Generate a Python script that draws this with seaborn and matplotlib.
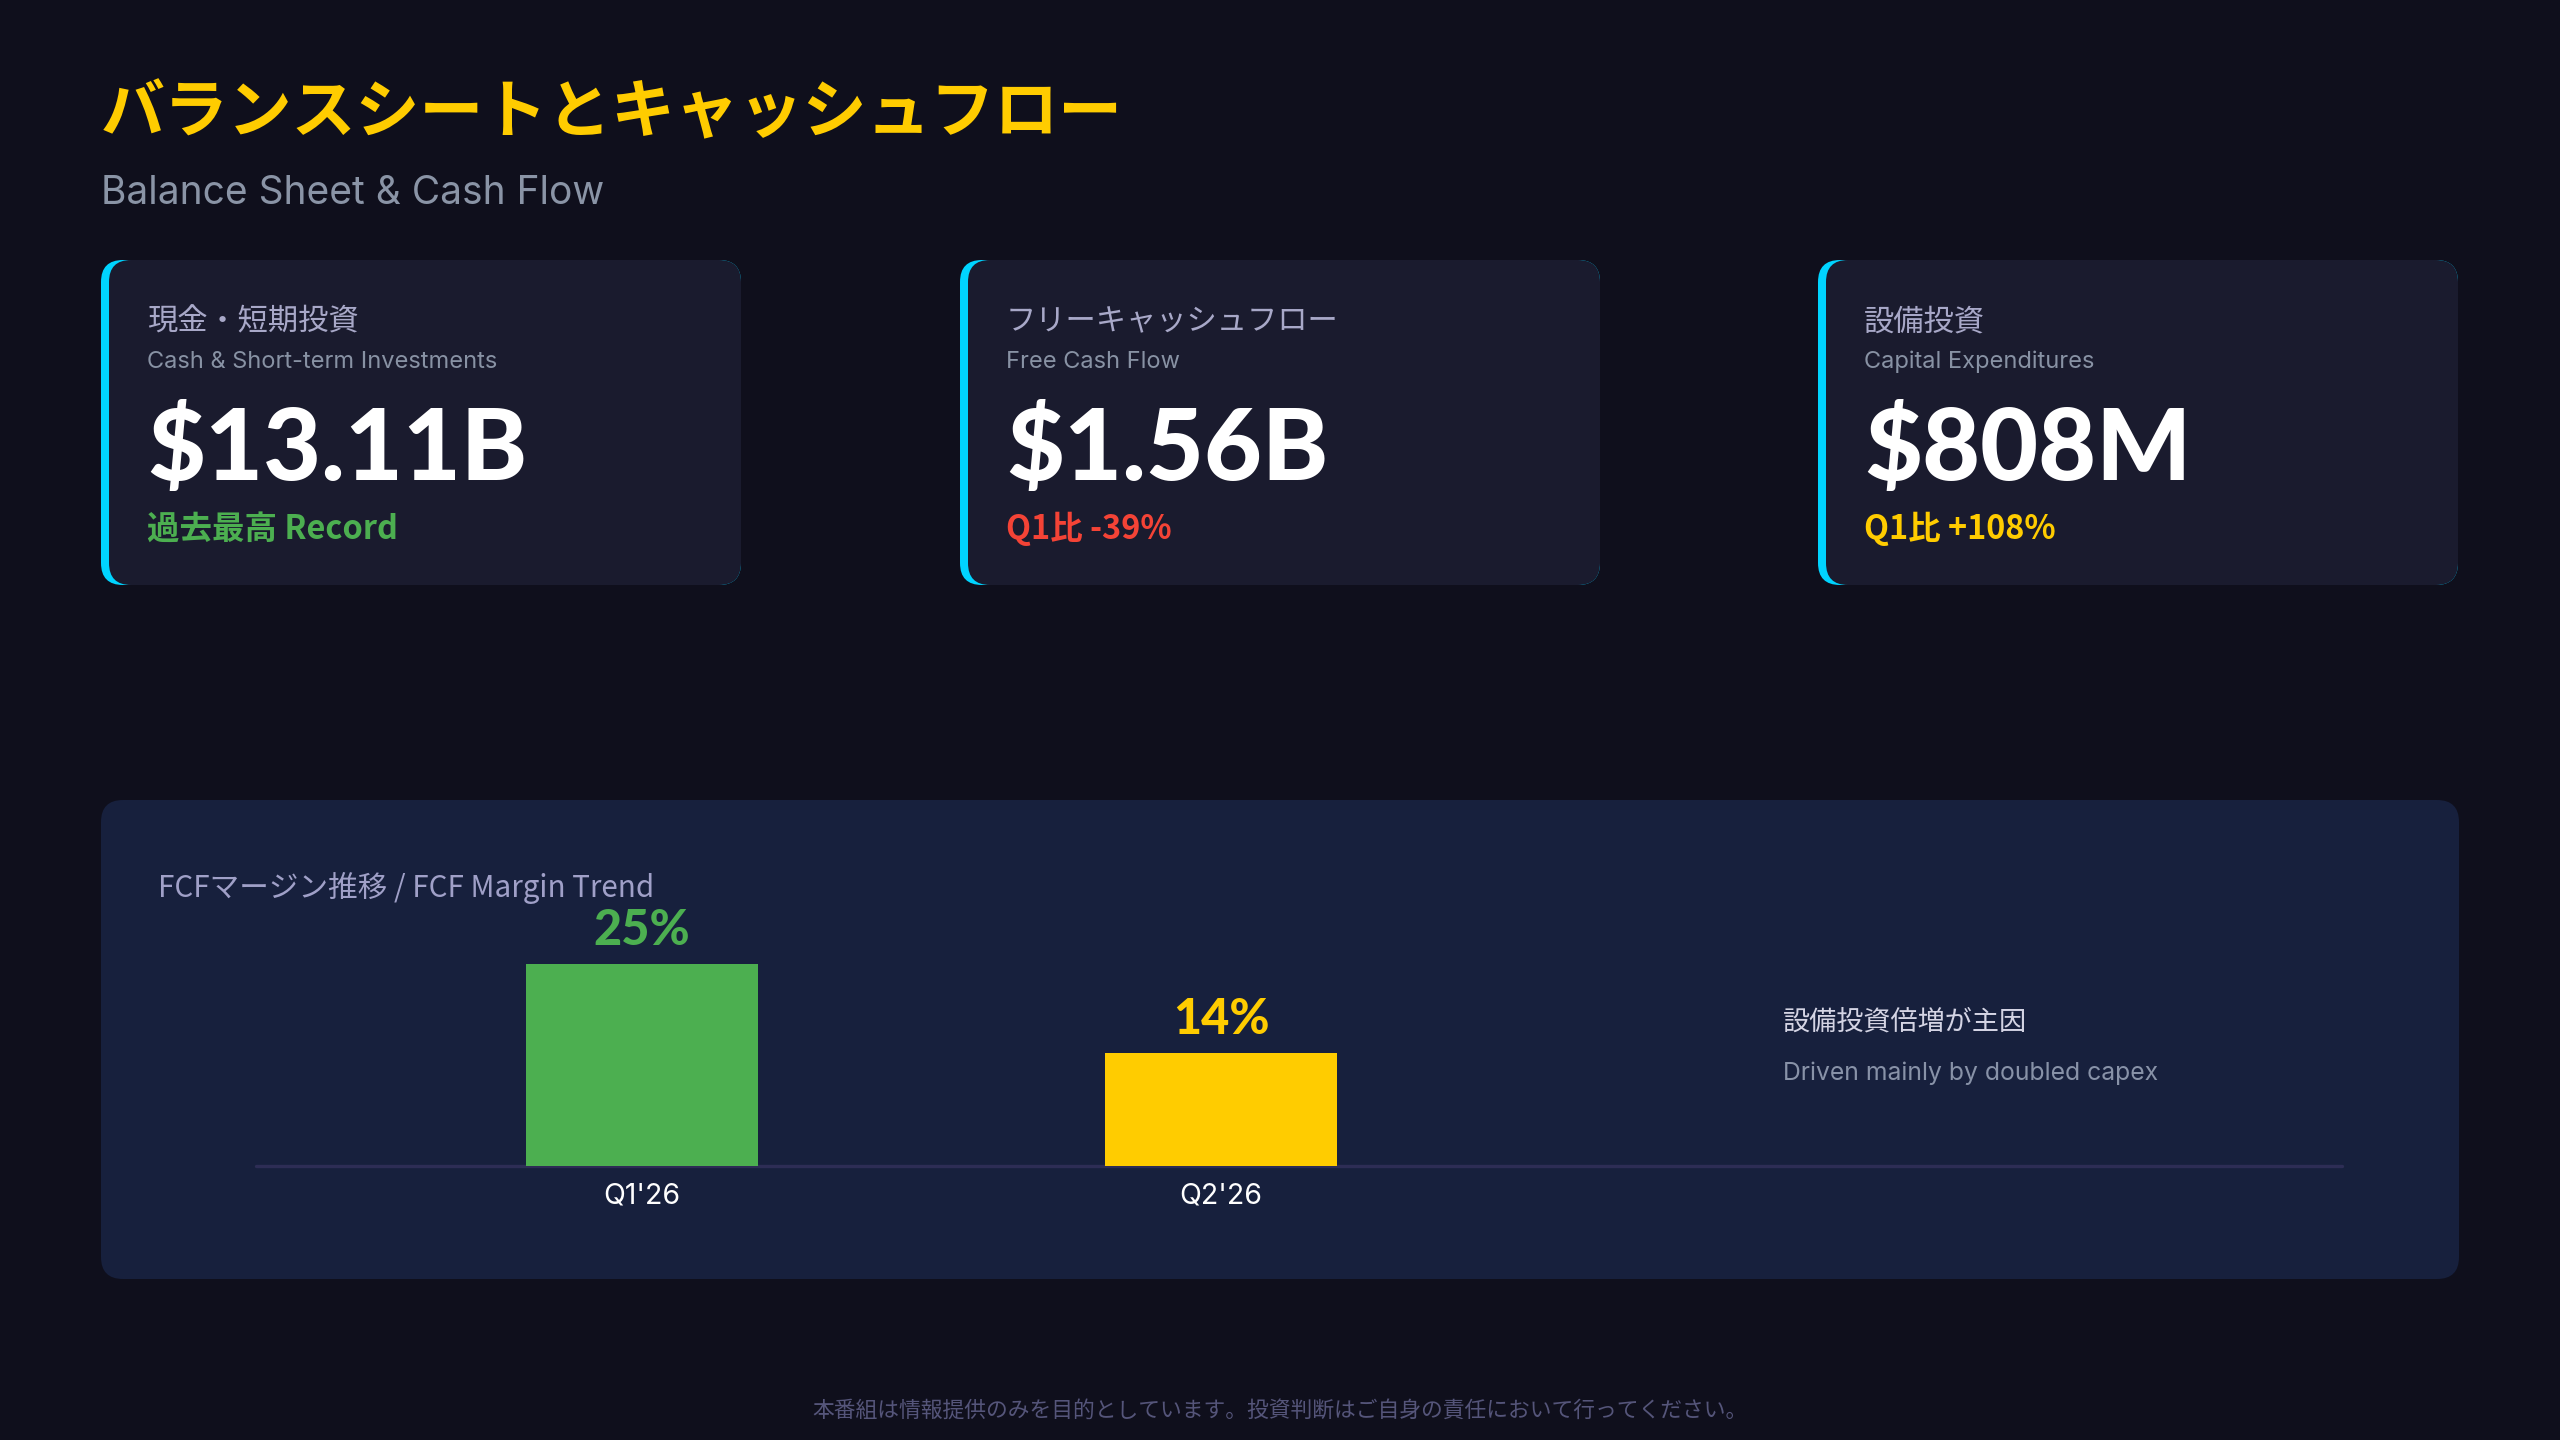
import matplotlib
matplotlib.use("Agg")
import matplotlib.pyplot as plt
import seaborn as sns
import pandas as pd
from matplotlib.patches import FancyBboxPatch

# ---------------- data ----------------
quarters = ["Q1'26", "Q2'26"]
fcf_margin = [25, 14]
margin_labels = ["25%", "14%"]
bar_colors = ["#4caf50", "#ffcc00"]

card_jp = ["現金・短期投資", "フリーキャッシュフロー", "設備投資"]
card_en = ["Cash & Short-term Investments", "Free Cash Flow", "Capital Expenditures"]
card_values = ["$13.11B", "$1.56B", "$808M"]
card_notes = ["過去最高 Record", "Q1比 -39%", "Q1比 +108%"]
note_colors = ["#4caf50", "#f44336", "#ffcc00"]

title_jp = "バランスシートとキャッシュフロー"
title_en = "Balance Sheet & Cash Flow"
panel_title = "FCFマージン推移 / FCF Margin Trend"
note_jp = "設備投資倍増が主因"
note_en = "Driven mainly by doubled capex"
footer = "本番組は情報提供のみを目的としています。投資判断はご自身の責任において行ってください。"

# ---------------- style ----------------
BG = "#0f0f1c"
CARD = "#1a1b2e"
PANEL = "#17203d"
CYAN = "#00d4ff"

sns.set_theme(style="dark")
JP = ["Noto Sans CJK JP", "DejaVu Sans"]
plt.rcParams["font.family"] = JP
HEAVY = ["Lato", "Roboto", "DejaVu Sans"]
LATIN = ["Inter", "DejaVu Sans"]

fig = plt.figure(figsize=(25.6, 14.4), dpi=100, facecolor=BG)
bg = fig.add_axes([0, 0, 1, 1])
bg.set_xlim(0, 2560)
bg.set_ylim(1440, 0)
bg.axis("off")
bg.set_facecolor(BG)

# title
bg.text(101, 114, title_jp, color="#ffcc00", fontsize=46, fontweight="bold",
        va="center", ha="left")
bg.text(101, 194, title_en, color="#8a94a6", fontsize=28, va="center", ha="left",
        family=LATIN)

# cards
card_x = [101, 960, 1818]
card_w, card_y, card_h = 640, 260, 325
R = 22
for i, x0 in enumerate(card_x):
    outer = FancyBboxPatch((x0, card_y), card_w, card_h,
                           boxstyle=f"round,pad=0,rounding_size={R}",
                           facecolor=CYAN, edgecolor="none", zorder=1)
    bg.add_patch(outer)
    inner = FancyBboxPatch((x0 + 8, card_y), card_w - 8, card_h,
                           boxstyle=f"round,pad=0,rounding_size={R}",
                           facecolor=CARD, edgecolor="none", zorder=2)
    bg.add_patch(inner)
    tx = x0 + 46
    bg.text(tx, 322, card_jp[i], color="#a8a8c8", fontsize=21.8, va="center", zorder=3)
    bg.text(tx, 362, card_en[i], color="#8892a4", fontsize=17, va="center", zorder=3,
            family=LATIN)
    bg.text(tx, 451, card_values[i], color="white", fontsize=72, fontweight="black",
            va="center", zorder=3, family=HEAVY)
    bg.text(tx, 529, card_notes[i], color=note_colors[i], fontsize=23.4,
            fontweight="bold", va="center", zorder=3)

# bottom panel
panel = FancyBboxPatch((101, 800), 2358, 479,
                       boxstyle=f"round,pad=0,rounding_size={R}",
                       facecolor=PANEL, edgecolor="none", zorder=1)
bg.add_patch(panel)
bg.text(158, 888, panel_title, color="#a0a0c8", fontsize=21.3, va="center", zorder=3)
bg.text(1783, 1022, note_jp, color="#d4d4e4", fontsize=19.5, va="center", zorder=3)
bg.text(1783, 1073, note_en, color="#8892a8", fontsize=17.8, va="center", zorder=3,
        family=LATIN)

# footer
bg.text(1280, 1411, footer, color="#55557a", fontsize=15.7, ha="center", va="center")

# ---------------- bar chart ----------------
ax_left, ax_right = 256, 2342
base_y, top_y = 1166, 900
ax = fig.add_axes([ax_left / 2560, (1440 - base_y) / 1440,
                   (ax_right - ax_left) / 2560, (base_y - top_y) / 1440])
ax.set_facecolor("none")
df = pd.DataFrame({"quarter": quarters, "margin": fcf_margin})
sns.barplot(data=df, x="quarter", y="margin", hue="quarter", palette=bar_colors,
            width=0.4, legend=False, ax=ax, saturation=1, edgecolor="none",
            linewidth=0)
ax.set_xlim(-0.667, 2.936)
ax.set_ylim(0, (base_y - top_y) / 8.1)
for s in ax.spines.values():
    s.set_visible(False)
ax.axhline(0, color="#2d2d55", lw=2.4, zorder=0, clip_on=False)
ax.set_yticks([])
ax.set_xlabel("")
ax.set_ylabel("")
ax.grid(False)
ax.tick_params(axis="x", length=0, pad=12, labelsize=20.5, labelcolor="white")
for lab in ax.get_xticklabels():
    lab.set_family(LATIN)
for i, (v, t) in enumerate(zip(fcf_margin, margin_labels)):
    ax.annotate(t, (i, v), xytext=(0, 24), textcoords="offset points",
                ha="center", va="center", color=bar_colors[i], fontsize=35,
                fontweight="black", family=HEAVY)

fig.savefig("out.png", dpi=100, facecolor=BG)
